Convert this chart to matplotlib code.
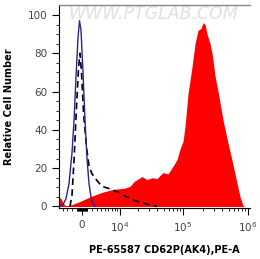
import numpy as np
import matplotlib
matplotlib.use('Agg')
import matplotlib.pyplot as plt

# PE intensities (x) and relative cell counts (y)
red_x = [-5070, -4550, -4050, -3570, -2890, -2020, -1190, -400, 595, 1600,
         2660, 3810, 5070, 6510, 8130, 10000, 12200, 14780, 17180, 19190,
         23060, 27650, 33120, 39600, 49040, 58600, 70100, 80700, 89770, 99900,
         107250, 119300, 137400, 152950, 170000, 189000, 203000, 217900, 234000, 260100,
         279300, 310500, 345500, 412300, 492100, 567000, 677000, 753000, 837000, 898800]
red_y = [5, 4, 2, 0.5, 0.5, 1, 1.8, 2.6, 3.8, 5,
         6, 7, 7.8, 8.5, 9, 9.3, 9.6, 10.5, 13, 14,
         15.6, 14, 15, 14.6, 17.7, 17, 21, 24.5, 30, 34,
         42, 59, 73, 85, 92, 93, 96, 95, 90, 85,
         80, 68, 60, 45, 33, 24, 12, 5, 0.5, 0]

blue_x = [-4800, -4050, -3340, -2660, -2020, -1600, -1190, -795, -495, -198,
          198, 595, 995, 1400, 1810, 2230, 2660]
blue_y = [0, 1, 4, 12, 28, 45, 68, 88, 97, 92,
          70, 45, 25, 12, 5, 1.5, 0]

dash_x = [-2450, -2020, -1600, -1095, -694, -400, -99, 297, 894, 1400,
          2020, 3110, 4300, 5930, 7440, 9240, 11280, 13700, 17830, 23900,
          30810, 39600]
dash_y = [0, 6, 24, 52, 72, 80, 70, 49, 31, 21,
          17, 13.5, 10.5, 9.5, 8.5, 7.5, 6, 4.7, 3, 1.8,
          0.8, 0]

xticks = [0, 1e4, 1e5, 1e6]
xticklabels = ['0', r'$10^4$', r'$10^5$', r'$10^6$']
yticks = [0, 20, 40, 60, 80, 100]

fig = plt.figure(figsize=(2.6, 2.59), dpi=100, facecolor='white')
ax = fig.add_axes([59/260, 1-208/259, 191/260, 203/259])
ax.set_xscale('asinh', linear_width=5586)

ax.fill_between(red_x, red_y, 0, color='#ff0000', linewidth=0, zorder=2)
ax.plot(dash_x, dash_y, color='black', linestyle=(0, (4, 2.5)), linewidth=1.2, zorder=3)
ax.plot(blue_x, blue_y, color='#26268f', linewidth=1.0, zorder=4)

ax.text(0.05, 0.955, 'WWW.PTGLAB.COM', transform=ax.transAxes, fontsize=12.5,
        color='#e0e0e0', ha='left', va='center', style='italic', zorder=1)

ax.set_xlim(-5070, 1.07e6)
ax.set_ylim(-0.8, 105.2)

minor = list(range(-4000, 0, 1000)) + list(range(-900, 1000, 100)) + \
    list(range(1000, 10000, 1000)) + list(range(20000, 100000, 10000)) + \
    list(range(200000, 1000000, 100000))
ax.set_xticks(xticks)
ax.set_xticklabels(xticklabels)
ax.set_xticks(minor, minor=True)
ax.set_yticks(yticks)
ax.set_yticks(np.arange(0, 105, 5), minor=True)

ax.tick_params(axis='both', which='major', direction='out', length=5, width=0.8,
               labelsize=7.5, labelcolor='#444444')
ax.tick_params(axis='both', which='minor', direction='out', length=2.5, width=0.6)
ax.tick_params(axis='x', which='major', pad=4)

ax.spines['right'].set_visible(False)
ax.spines['top'].set_color('#888888')
ax.spines['top'].set_linewidth(1.0)

ax.set_xlabel('PE-65587 CD62P(AK4),PE-A', fontsize=7, fontweight='bold')
ax.xaxis.set_label_coords(0.55, -0.18)
ax.set_ylabel('Relative Cell Number', fontsize=7, fontweight='bold', labelpad=10)

plt.savefig('out.png', dpi=100)
